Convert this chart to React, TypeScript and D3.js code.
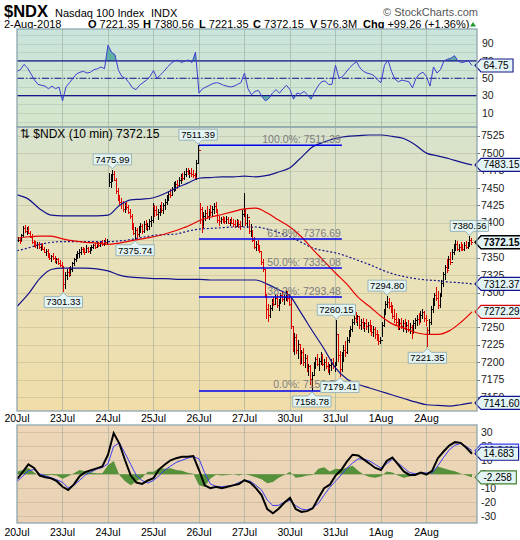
import React from 'react';
import * as d3 from 'd3';

// Trading sessions shown on the time axis
const sessionLabels = ['20Jul', '23Jul', '24Jul', '25Jul', '26Jul', '27Jul', '30Jul', '31Jul', '1Aug', '2Aug'];
const BARS_PER_SESSION = 26;

// Intraday bars per session: [high, low, close]
const jul20 = [[7380,7372,7376],[7378,7370,7374],[7384,7373,7382],[7395,7380,7392],[7397,7386,7388],[7394,7382,7390],[7396,7384,7386],[7388,7378,7380],[7384,7370,7372],[7376,7366,7370],[7374,7364,7368],[7372,7362,7370],[7373,7363,7365],[7370,7360,7368],[7371,7361,7363],[7366,7356,7358],[7362,7352,7360],[7363,7349,7352],[7356,7346,7350],[7354,7344,7352],[7357,7347,7349],[7352,7343,7346],[7350,7341,7348],[7350,7340,7342],[7346,7336,7340],[7344,7334,7338]];
const jul23 = [[7338,7301.33,7312],[7330,7305,7325],[7334,7318,7330],[7336,7322,7326],[7338,7324,7334],[7344,7330,7342],[7350,7338,7348],[7355,7344,7352],[7360,7348,7356],[7362,7350,7358],[7366,7354,7362],[7366,7356,7360],[7364,7354,7358],[7368,7356,7364],[7366,7357,7360],[7365,7355,7362],[7368,7359,7366],[7370,7362,7368],[7371,7363,7366],[7372,7364,7370],[7373,7365,7368],[7374,7366,7372],[7375,7367,7370],[7376,7367,7373],[7378,7368,7372],[7377,7368,7374]];
const jul24 = [[7472,7452,7458],[7470,7450,7465],[7475.99,7458,7470],[7474,7460,7462],[7464,7442,7446],[7450,7432,7438],[7440,7424,7430],[7436,7420,7428],[7432,7416,7420],[7428,7414,7425],[7430,7418,7422],[7426,7412,7416],[7420,7406,7410],[7412,7390,7395],[7400,7382,7386],[7394,7375.74,7390],[7392,7378,7384],[7396,7380,7392],[7400,7386,7396],[7398,7384,7388],[7402,7386,7398],[7404,7390,7394],[7400,7388,7396],[7406,7390,7402],[7410,7394,7404],[7428,7400,7424]];
const jul25 = [[7426,7408,7418],[7424,7410,7412],[7420,7404,7416],[7426,7410,7422],[7430,7414,7418],[7428,7412,7426],[7434,7418,7430],[7440,7426,7436],[7446,7432,7442],[7448,7436,7440],[7452,7438,7448],[7458,7444,7452],[7460,7446,7456],[7462,7448,7454],[7466,7452,7462],[7470,7456,7466],[7472,7460,7464],[7474,7462,7470],[7478,7466,7474],[7478,7468,7470],[7476,7464,7472],[7478,7466,7470],[7476,7464,7468],[7472,7462,7466],[7490,7462,7486],[7511.39,7484,7504]];
const jul26 = [[7428,7398,7420],[7422,7386,7395],[7415,7392,7410],[7418,7402,7414],[7424,7406,7410],[7420,7404,7418],[7426,7410,7416],[7424,7408,7420],[7428,7412,7424],[7430,7414,7418],[7420,7400,7404],[7410,7396,7402],[7408,7398,7406],[7410,7400,7404],[7408,7398,7402],[7410,7399,7406],[7408,7398,7400],[7406,7395,7402],[7408,7398,7400],[7405,7394,7398],[7404,7392,7396],[7406,7394,7402],[7404,7392,7398],[7402,7390,7396],[7418,7394,7412],[7443,7408,7416]];
const jul27 = [[7420,7396,7400],[7412,7392,7408],[7404,7384,7388],[7398,7380,7394],[7390,7372,7376],[7380,7362,7366],[7374,7360,7370],[7376,7360,7364],[7368,7356,7360],[7360,7340,7344],[7348,7330,7334],[7334,7292,7296],[7298,7262,7276],[7284,7258,7268],[7282,7264,7278],[7290,7274,7286],[7294,7280,7284],[7298,7282,7292],[7296,7278,7282],[7290,7274,7288],[7300,7284,7296],[7302,7286,7290],[7298,7282,7294],[7304,7288,7300],[7302,7286,7292],[7298,7280,7284]];
const jul30 = [[7292,7248,7252],[7250,7214,7222],[7242,7210,7236],[7240,7212,7218],[7232,7204,7226],[7224,7196,7210],[7218,7198,7214],[7220,7194,7200],[7212,7192,7206],[7210,7186,7190],[7198,7180,7194],[7196,7168,7176],[7186,7158.78,7182],[7200,7180,7196],[7208,7190,7204],[7212,7194,7198],[7206,7188,7202],[7214,7196,7210],[7212,7194,7198],[7204,7188,7200],[7208,7190,7194],[7200,7184,7192],[7198,7182,7196],[7204,7188,7198],[7206,7190,7194],[7200,7186,7196]];
const jul31 = [[7260.15,7196,7240],[7240,7200,7210],[7216,7179.41,7190],[7214,7186,7208],[7224,7200,7218],[7230,7208,7214],[7236,7212,7232],[7246,7228,7242],[7252,7236,7248],[7262,7244,7258],[7270,7254,7264],[7272,7256,7260],[7268,7252,7266],[7266,7248,7254],[7262,7246,7258],[7264,7248,7250],[7258,7244,7256],[7262,7246,7252],[7258,7242,7254],[7260,7244,7248],[7254,7238,7244],[7252,7236,7248],[7250,7234,7240],[7246,7230,7236],[7240,7224,7230],[7236,7226,7232]];
const aug1 = [[7258,7236,7254],[7276,7250,7270],[7288,7268,7284],[7294.8,7278,7286],[7292,7276,7280],[7286,7270,7276],[7282,7262,7266],[7276,7256,7262],[7270,7252,7258],[7264,7246,7250],[7262,7246,7256],[7264,7248,7252],[7260,7244,7256],[7262,7246,7250],[7258,7242,7254],[7260,7244,7248],[7256,7240,7250],[7254,7234,7242],[7260,7240,7256],[7264,7248,7260],[7268,7252,7262],[7270,7254,7258],[7274,7256,7268],[7276,7262,7272],[7274,7258,7264],[7268,7252,7260]];
const aug2 = [[7250,7221.35,7246],[7262,7240,7258],[7280,7254,7276],[7292,7270,7286],[7300,7280,7296],[7308,7288,7292],[7302,7276,7282],[7300,7278,7296],[7318,7294,7314],[7330,7308,7326],[7340,7318,7336],[7348,7328,7332],[7352,7334,7348],[7358,7340,7344],[7362,7346,7358],[7370,7354,7366],[7375,7360,7370],[7374,7360,7362],[7370,7358,7366],[7372,7360,7364],[7370,7360,7362],[7372,7360,7368],[7374,7362,7366],[7372,7362,7370],[7380.56,7366,7376],[7378,7368,7372.15]];
const sessions = [jul20, jul23, jul24, jul25, jul26, jul27, jul30, jul31, aug1, aug2];

// Bollinger bands and moving average, sampled every quarter session
const upperBand = [7440,7434,7420,7411,7410,7410,7410,7410,7411,7425,7433,7434,7436,7442,7450,7457,7464,7465,7466,7466,7467,7466,7468,7473,7479,7494,7509,7516,7521,7524,7525,7526,7526,7524,7521,7512,7500,7496,7492,7487,7483.15];
const middleBand = [7360,7364,7369,7372,7373,7373,7373,7373,7373,7374,7376,7379,7382,7383,7384,7388,7391,7392,7393,7394,7394,7394,7391,7386,7380,7372,7364,7360,7357,7352,7346,7340,7333,7327,7323,7320,7318,7317,7315,7314,7312.37];
const lowerBand = [7280,7298,7320,7333,7335,7335,7335,7334,7331,7325,7322,7321,7320,7320,7319,7319,7319,7318,7318,7318,7318,7318,7312,7304,7295,7270,7244,7219,7192,7176,7168,7163,7158,7153,7148,7143,7139,7138,7137,7139,7141.6];
const movingAverage = [7378,7380,7381,7381,7377,7374,7372,7371,7369,7371,7374,7377,7380,7384,7389,7395,7403,7408,7412,7416,7420,7421,7414,7404,7394,7380,7362,7345,7328,7312,7293,7280,7266,7255,7249,7243,7240,7240,7245,7257,7272.29];

// RSI(14), sampled every half hour
const rsiValues = [58,60,66,62,55,48,43,42,41,38,41,38,40,24,40,45,50,55,57,58,56,57,60,61,63,61,88,80,77,59,52,50,45,39,37,42,45,48,52,59,50,54,58,63,67,70,71,68,70,71,68,80,33,38,40,42,44,45,44,42,41,40,41,43,45,56,38,31,35,36,29,24,27,33,37,33,38,42,37,26,33,32,35,31,26,34,41,46,47,43,43,65,50,52,57,62,66,69,62,58,56,55,53,48,45,65,71,58,49,46,48,47,46,39,50,55,57,52,41,63,56,60,70,72,73,76,70,68,69,70,64.75];

// MACD and its signal line, sampled every eighth of a session
const macdValues = [-3.5,1.5,7,4.5,-1,-2.2,-3,-5,-9,-11.3,-7.3,-1.5,1.5,2.8,4.2,5.5,14,29.5,22,10,-1,-6,-7,-4.5,-2.8,3.5,7,10,11.5,12.5,12.5,13,3,-8,-10,-9,-10,-9,-8,-7,-4.3,-6,-10,-15,-25,-28,-24.8,-20.5,-17,-25,-27,-26.5,-24.5,-17,-10,-7.5,-1,3,9,14,13.5,10.5,7.5,4.5,3,9.5,12,7,2,-0.5,-0.5,1.2,-0.2,2.5,11.5,16.3,20.5,23,22.5,19,14.683];
const signalValues = [-5.2,-1.5,2.5,3.3,0.2,-1.2,-2.5,-4,-5.8,-9.8,-8,-4.5,-0.6,1.5,3.6,4.8,7.5,20,22.5,15,7,-1,-4.5,-6.3,-4.5,-1,3,5.8,8.5,10,11.5,12.7,11,1,-7,-8.7,-9,-8.5,-7.9,-6,-4.5,-5,-7.9,-11.3,-18.5,-22.5,-22.3,-20,-18.8,-22.5,-25,-25.6,-24,-20.9,-15,-9.5,-5,-0.5,4.3,8,11,10.8,9.5,7,4.5,7.5,10.7,8,4.6,1.2,0.3,1,0.9,1,6,12,17.5,20.8,22,20,16.941];

const priceTicks = [7150,7175,7200,7225,7250,7275,7300,7325,7350,7375,7400,7425,7450,7475,7500,7525];
const rsiTicks = [10,30,50,70,90];
const rsiGrid = [0,10,20,30,40,50,60,70,80,90,100];
const macdTicks = [-30,-20,-10,0,10,20,30];

// Marked session highs and lows: [session, bar, side]
const extremes: [number, number, 'high' | 'low'][] = [
  [1, 0, 'low'], [2, 2, 'high'], [2, 15, 'low'], [3, 25, 'high'],
  [6, 12, 'low'], [7, 0, 'high'], [7, 2, 'low'], [8, 3, 'high'],
  [9, 0, 'low'], [9, 24, 'high'],
];
// Fibonacci retracement between the 25Jul high and the 30Jul low
const fibHighBar = [3, 25];
const fibLowBar = [6, 12];
const fibSpan = [4.0, 7.14];
const fibRatios = [1, 0.618, 0.5, 0.382, 0];

const LEFT = 17, RIGHT = 477;
const RSI_TOP = 29, RSI_BOTTOM = 127;
const PRICE_TOP = 127, PRICE_BOTTOM = 411;
const MACD_TOP = 425, MACD_BOTTOM = 523;
const FONT = "'Liberation Sans', Arial, sans-serif";
const NAVY = '#14148c';

function textWidth(s: string, size: number) {
  let w = 0;
  for (const ch of s) w += ch === '.' ? 0.278 : ch === '-' ? 0.333 : ch === '%' ? 0.889 : 0.556;
  return w * size;
}

function Flag({ y, text, stroke, bold = false }: { y: number; text: string; stroke: string; bold?: boolean }) {
  const w = textWidth(text, 10) + 7;
  const x0 = 475, x1 = 481;
  return (
    <g>
      <path d={`M${x0},${y}L${x1},${y - 6.5}H${x1 + w}V${y + 6.5}H${x1}Z`} fill="#e2f4f6" stroke={stroke} strokeWidth={bold ? 1.4 : 1.1} />
      <text x={x1 + 2.5} y={y + 3.6} fontSize={10} fontWeight={bold ? 'bold' : 'normal'} fill="#000" fontFamily={FONT}>{text}</text>
    </g>
  );
}

export default function App() {
  const x = d3.scaleLinear().domain([0, 10.11]).range([LEFT, RIGHT]);
  const yP = d3.scaleLinear().domain([7130, 7537.5]).range([PRICE_BOTTOM, PRICE_TOP]);
  const yR = d3.scaleLinear().domain([-6, 106.7]).range([RSI_BOTTOM, RSI_TOP]);
  const yM = d3.scaleLinear().domain([-35, 35.3]).range([MACD_BOTTOM, MACD_TOP]);

  // Flatten bars, coloring by change from the previous close
  type Bar = { t: number; o: number; h: number; l: number; c: number; up: boolean };
  const bars: Bar[] = [];
  let prev: number | null = null;
  sessions.forEach((sess, s) => {
    sess.forEach(([h, l, c], k) => {
      bars.push({ t: s + (k + 0.5) / BARS_PER_SESSION, o: prev ?? c, h, l, c, up: prev === null ? true : c > prev });
      prev = c;
    });
  });
  const barPath = (up: boolean) =>
    bars.filter(b => b.up === up).map(b => {
      const X = Math.round(x(b.t)) + 0.5;
      const yo = Math.round(yP(b.o)) + 0.5, yc = Math.round(yP(b.c)) + 0.5;
      return `M${X},${yP(b.h)}V${yP(b.l)}M${X - 1.5},${yo}H${X}M${X},${yc}H${X + 1.5}`;
    }).join('');

  const quarterLine = d3.line<number>().x((_, i) => x(i / 4)).y(v => yP(v)).curve(d3.curveMonotoneX);
  const rsiLine = d3.line<number>().x((_, i) => x(i / 13)).y(v => yR(v));
  const rsiArea = (base: number) => d3.area<number>().x((_, i) => x(i / 13)).y0(yR(base)).y1(v => yR(v))(rsiValues) ?? '';
  const macdLine = d3.line<number>().x((_, i) => x(i / 8)).y(v => yM(v));
  const histogram = macdValues.map((m, i) => m - signalValues[i]);
  const histArea = d3.area<number>().x((_, i) => x(i / 8)).y0(yM(0)).y1(v => yM(v))(histogram) ?? '';

  const fibHigh = sessions[fibHighBar[0]][fibHighBar[1]][0];
  const fibLow = sessions[fibLowBar[0]][fibLowBar[1]][1];
  const fibLevels = fibRatios.map(r => {
    const v = Math.round((fibLow + r * (fibHigh - fibLow)) * 100 - 1e-6) / 100;
    return { r, v, label: `${(r * 100).toFixed(1)}%: ${v.toFixed(2)}` };
  });

  const dayLines = d3.range(1, sessionLabels.length).map(s => Math.round(x(s)) + 0.5);
  const hLine = (y: number) => Math.round(y) + 0.5;

  const last = <T,>(a: T[]) => a[a.length - 1];
  const closeLast = last(aug2)[2];
  const histLast = last(histogram);

  return (
    <div style={{ position: 'absolute', left: 0, top: 0 }}>
      <svg width={520} height={540} style={{ display: 'block', background: '#fff' }} fontFamily={FONT}>
        <defs>
          <linearGradient id="rsiBg" x1="0" y1="0" x2="0" y2="1">
            <stop offset="0" stopColor="#c9e4dc" />
            <stop offset="1" stopColor="#d5e6cb" />
          </linearGradient>
          <linearGradient id="priceBg" x1="0" y1="0" x2="0" y2="1">
            <stop offset="0" stopColor="#d7e2cd" />
            <stop offset="0.45" stopColor="#e8e2bb" />
            <stop offset="1" stopColor="#f0dda9" />
          </linearGradient>
          <linearGradient id="macdBg" x1="0" y1="0" x2="0" y2="1">
            <stop offset="0" stopColor="#edd7b8" />
            <stop offset="1" stopColor="#e9d2b5" />
          </linearGradient>
          <clipPath id="rsiClip"><rect x={LEFT} y={RSI_TOP} width={RIGHT - LEFT} height={RSI_BOTTOM - RSI_TOP} /></clipPath>
          <clipPath id="rsiHigh"><rect x={LEFT} y={RSI_TOP} width={RIGHT - LEFT} height={yR(70) - RSI_TOP} /></clipPath>
          <clipPath id="rsiLow"><rect x={LEFT} y={yR(30)} width={RIGHT - LEFT} height={RSI_BOTTOM - yR(30)} /></clipPath>
          <clipPath id="priceClip"><rect x={LEFT} y={PRICE_TOP} width={RIGHT - LEFT} height={PRICE_BOTTOM - PRICE_TOP} /></clipPath>
          <clipPath id="macdClip"><rect x={LEFT} y={MACD_TOP} width={RIGHT - LEFT} height={MACD_BOTTOM - MACD_TOP} /></clipPath>
        </defs>

        {/* Title block */}
        <text x={4} y={17} fontSize={16.5} fontWeight="bold" fill="#000">$NDX</text>
        <text x={55} y={17} fontSize={11} fill="#000">Nasdaq 100 Index</text>
        <text x={151} y={17} fontSize={11} fill="#000">INDX</text>
        <text x={478} y={16} fontSize={11} fill="#555" textAnchor="end">© StockCharts.com</text>
        <g fontSize={11} fill="#000">
          <text x={4} y={28}>2-Aug-2018</text>
          <text x={88} y={28}><tspan fontWeight="bold">O</tspan> 7221.35</text>
          <text x={143} y={28}><tspan fontWeight="bold">H</tspan> 7380.56</text>
          <text x={199} y={28}><tspan fontWeight="bold">L</tspan> 7221.35</text>
          <text x={253} y={28}><tspan fontWeight="bold">C</tspan> 7372.15</text>
          <text x={310} y={28}><tspan fontWeight="bold">V</tspan> 576.3M</text>
          <text x={363} y={28}><tspan fontWeight="bold">Chg</tspan> +99.26 (+1.36%)</text>
        </g>
        <path d="M470,26.5L473,22L476,26.5Z" fill="#1f9a2e" />

        {/* RSI panel */}
        <rect x={LEFT} y={RSI_TOP} width={RIGHT - LEFT} height={RSI_BOTTOM - RSI_TOP} fill="url(#rsiBg)" />
        <g clipPath="url(#rsiClip)">
          {rsiGrid.map(v => <line key={v} x1={LEFT} x2={RIGHT} y1={hLine(yR(v))} y2={hLine(yR(v))} stroke="#9fb0a4" strokeOpacity={0.35} />)}
          {dayLines.map(X => <line key={X} x1={X} x2={X} y1={RSI_TOP} y2={RSI_BOTTOM} stroke="#9aaa9c" strokeOpacity={0.6} />)}
          <path d={rsiArea(70)} fill="#5fb0a4" clipPath="url(#rsiHigh)" />
          <path d={rsiArea(30)} fill="#5fb0a4" clipPath="url(#rsiLow)" />
          <line x1={LEFT} x2={RIGHT} y1={yR(70)} y2={yR(70)} stroke={NAVY} strokeWidth={1.3} />
          <line x1={LEFT} x2={RIGHT} y1={yR(30)} y2={yR(30)} stroke={NAVY} strokeWidth={1.3} />
          <line x1={LEFT} x2={RIGHT} y1={yR(50)} y2={yR(50)} stroke={NAVY} strokeWidth={1.1} strokeDasharray="7,2,1.5,2" />
          <path d={rsiLine(rsiValues) ?? ''} fill="none" stroke="#3d3dd0" strokeWidth={1} />
        </g>
        {rsiTicks.map(v => (
          <text key={v} x={482} y={yR(v) + 3.6} fontSize={10.5} fill="#222">{v}</text>
        ))}

        {/* Price panel */}
        <rect x={LEFT} y={PRICE_TOP} width={RIGHT - LEFT} height={PRICE_BOTTOM - PRICE_TOP} fill="url(#priceBg)" />
        <g clipPath="url(#priceClip)">
          {priceTicks.map(v => <line key={v} x1={LEFT} x2={RIGHT} y1={hLine(yP(v))} y2={hLine(yP(v))} stroke="#a8a488" strokeOpacity={0.35} />)}
          {dayLines.map(X => <line key={X} x1={X} x2={X} y1={PRICE_TOP} y2={PRICE_BOTTOM} stroke="#9aaa9c" strokeOpacity={0.6} />)}
          <path d={barPath(true)} stroke="#000" strokeWidth={1} fill="none" shapeRendering="crispEdges" />
          <path d={barPath(false)} stroke="#e00000" strokeWidth={1} fill="none" shapeRendering="crispEdges" />
          <path d={quarterLine(upperBand) ?? ''} fill="none" stroke={NAVY} strokeWidth={1.2} />
          <path d={quarterLine(lowerBand) ?? ''} fill="none" stroke={NAVY} strokeWidth={1.2} />
          <path d={quarterLine(middleBand) ?? ''} fill="none" stroke={NAVY} strokeWidth={1.2} strokeDasharray="2,2" />
          <path d={quarterLine(movingAverage) ?? ''} fill="none" stroke="#e80000" strokeWidth={1.2} />
          {fibLevels.map(f => (
            <g key={f.r}>
              <line x1={x(fibSpan[0])} x2={x(fibSpan[1])} y1={yP(f.v)} y2={yP(f.v)} stroke="#0000f0" strokeWidth={1.5} />
              <text x={x(fibSpan[1]) - 1} y={yP(f.v) - 2.5} fontSize={10.5} fill="#7d7d7d" textAnchor="end">{f.label}</text>
            </g>
          ))}
          <text x={20} y={138} fontSize={12} fill="#000">⇅ $NDX (10 min) 7372.15</text>
        </g>
        {priceTicks.map(v => (
          <g key={v}>
            <line x1={RIGHT} x2={RIGHT + 3} y1={hLine(yP(v))} y2={hLine(yP(v))} stroke="#777" />
            <text x={481} y={yP(v) + 3.6} fontSize={10.5} fill="#222">{v}</text>
          </g>
        ))}
        <Flag y={yP(last(upperBand))} text={last(upperBand).toFixed(2)} stroke={NAVY} />
        <Flag y={yP(last(middleBand))} text={last(middleBand).toFixed(2)} stroke={NAVY} />
        <Flag y={yP(last(movingAverage))} text={last(movingAverage).toFixed(2)} stroke="#e00000" />
        <Flag y={yP(last(lowerBand))} text={last(lowerBand).toFixed(2)} stroke={NAVY} />
        <Flag y={yP(closeLast)} text={closeLast.toFixed(2)} stroke="#000" bold />

        {/* High / low markers sit above the axis labels */}
        {extremes.map(([s, k, side]) => {
          const [h, l] = sessions[s][k];
          const v = side === 'high' ? h : l;
          const X = x(s + (k + 0.5) / BARS_PER_SESSION);
          const label = v.toFixed(2);
          const w = textWidth(label, 9.5) + 4;
          const tip = side === 'high' ? yP(v) - 1 : yP(v) + 1;
          const dir = side === 'high' ? -1 : 1;
          const boxNear = tip + dir * 4;
          const boxFar = boxNear + dir * 11;
          const top = Math.min(boxNear, boxFar);
          return (
            <g key={`${s}-${k}`}>
              <path d={`M${X},${tip}L${X - 4},${boxNear}H${X - w / 2}V${boxFar}H${X + w / 2}V${boxNear}H${X + 4}Z`} fill="#e3f4f3" stroke="#9ab4b8" strokeWidth={1} />
              <text x={X} y={top + 8.8} fontSize={9.5} textAnchor="middle" fill="#000">{label}</text>
            </g>
          );
        })}

        {/* Time axis between panels */}
        {sessionLabels.map((d, s) => (
          <text key={d} x={x(s)} y={422} fontSize={10.5} textAnchor="middle" fill="#000">{d}</text>
        ))}

        {/* MACD panel */}
        <rect x={LEFT} y={MACD_TOP} width={RIGHT - LEFT} height={MACD_BOTTOM - MACD_TOP} fill="url(#macdBg)" />
        <g clipPath="url(#macdClip)">
          {macdTicks.map(v => <line key={v} x1={LEFT} x2={RIGHT} y1={hLine(yM(v))} y2={hLine(yM(v))} stroke="#a89a84" strokeOpacity={0.35} />)}
          {dayLines.map(X => <line key={X} x1={X} x2={X} y1={MACD_TOP} y2={MACD_BOTTOM} stroke="#9aaa9c" strokeOpacity={0.6} />)}
          <path d={histArea} fill="#55903a" />
          <path d={macdLine(signalValues) ?? ''} fill="none" stroke="#3c3cf0" strokeWidth={1} />
          <path d={macdLine(macdValues) ?? ''} fill="none" stroke="#000" strokeWidth={2} />
        </g>
        {macdTicks.map(v => (
          <text key={v} x={481} y={yM(v) + 3.6} fontSize={10.5} fill="#222">{v}</text>
        ))}
        <Flag y={yM(last(signalValues))} text={last(signalValues).toFixed(3)} stroke="#3c3cf0" />
        <Flag y={yM(last(macdValues))} text={last(macdValues).toFixed(3)} stroke={NAVY} />
        <Flag y={yM(histLast)} text={histLast.toFixed(3)} stroke="#3f7f2a" />
        <Flag y={yR(last(rsiValues))} text={last(rsiValues).toFixed(2)} stroke={NAVY} />

        {sessionLabels.map((d, s) => (
          <text key={`b${d}`} x={x(s)} y={536} fontSize={10.5} textAnchor="middle" fill="#000">{d}</text>
        ))}

        {/* Panel frames */}
        {[[RSI_TOP, RSI_BOTTOM], [PRICE_TOP, PRICE_BOTTOM], [MACD_TOP, MACD_BOTTOM]].map(([a, b]) => (
          <rect key={a} x={LEFT} y={a} width={RIGHT - LEFT} height={b - a} fill="none" stroke="#8fa6ae" strokeWidth={1.3} />
        ))}
      </svg>
    </div>
  );
}
